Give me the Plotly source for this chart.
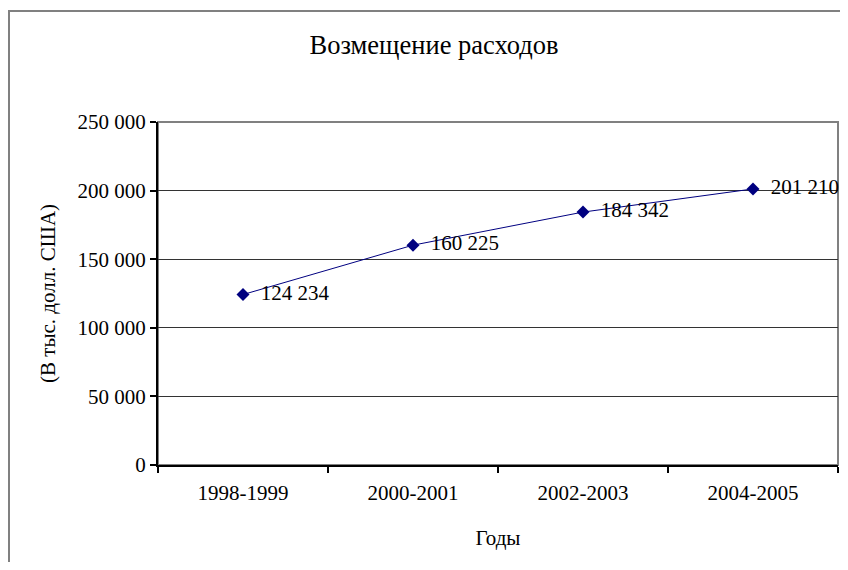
import plotly.graph_objects as go

categories = ["1998-1999", "2000-2001", "2002-2003", "2004-2005"]
values = [124234, 160225, 184342, 201210]
y_ticks = [0, 50000, 100000, 150000, 200000, 250000]
y_tick_labels = ["0", "50 000", "100 000", "150 000", "200 000", "250 000"]
title_text = "Возмещение расходов"
x_title = "Годы"
y_title = "(В тыс. долл. США)"

def fmt(v):
    return f"{v:,}".replace(",", " ")

FONT = "Liberation Serif"
FS = 21

W, H = 840, 554  # page has 8px body margin; keep page within the window
L, T = 150, 114
PW, PH = 680, 343

fig = go.Figure()
fig.add_trace(go.Scatter(
    x=categories, y=values,
    mode="lines+markers+text",
    line=dict(color="#000080", width=1),
    marker=dict(symbol="diamond", size=10, color="#000080"),
    text=["  " + fmt(v) for v in values],
    textposition="middle right",
    textfont=dict(family=FONT, size=FS, color="black"),
    cliponaxis=False,
    showlegend=False,
))

fig.add_shape(type="rect", xref="x domain", yref="y domain", x0=0, x1=1, y0=0, y1=1,
              line=dict(color="#808080", width=2), layer="below")
# outer chart border
fig.add_shape(type="rect", xref="paper", yref="paper",
              x0=(1 - L) / PW, x1=(W + 5 - L) / PW, y0=-0.4, y1=1 + (T - 3) / PH,
              line=dict(color="#808080", width=2), layer="below")

fig.update_layout(
    width=W, height=H,
    margin=dict(l=L, r=W - L - PW, t=T, b=H - T - PH),
    paper_bgcolor="white", plot_bgcolor="rgba(0,0,0,0)",
    font=dict(family=FONT, size=FS, color="black"),
    title=dict(text=title_text, x=(434 - 8) / W, xref="container", xanchor="center",
               y=1 - 37 / H, yanchor="middle",
               font=dict(family=FONT, size=26.5, color="black")),
    xaxis=dict(
        type="category", range=[-0.5, 3.5],
        tickson="boundaries", ticks="outside", ticklen=6, tickwidth=2, tickcolor="black",
        ticklabelstandoff=8,
        showline=True, linecolor="black", linewidth=2, showgrid=False,
        tickfont=dict(family=FONT, size=FS),
        title=dict(text=x_title, font=dict(family=FONT, size=FS), standoff=26),
    ),
    yaxis=dict(
        range=[0, 250000], tickvals=y_ticks, ticktext=y_tick_labels,
        ticks="outside", ticklen=6, tickwidth=2, tickcolor="black",
        showline=True, linecolor="black", linewidth=2,
        showgrid=True, gridcolor="#333333", gridwidth=1, zeroline=False,
        tickfont=dict(family=FONT, size=FS),
        title=dict(text=y_title, font=dict(family=FONT, size=FS), standoff=16),
    ),
)

fig.write_html("out.html")
